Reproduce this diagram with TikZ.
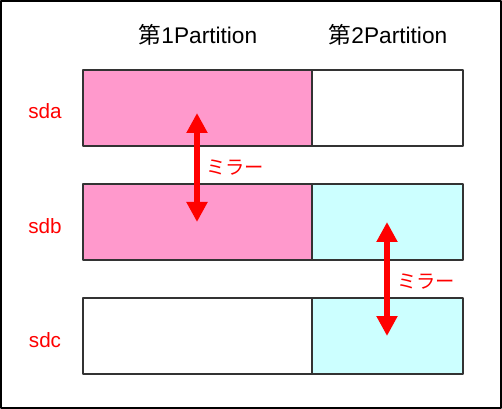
\documentclass[tikz,border=0pt]{standalone}
\usepackage{fontspec}
\setmainfont{Liberation Sans}
\newfontfamily\cjk{Noto Sans CJK JP}
\usetikzlibrary{arrows.meta}
\definecolor{pinkfill}{HTML}{FF99CC}
\definecolor{cyanfill}{HTML}{CCFFFF}
\begin{document}
\begin{tikzpicture}[x=0.75pt,y=-0.75pt,line join=round,
  part/.style={draw=black!80,line width=0.9pt},
  dev/.style={text=red,font=\fontsize{15.5}{17}\selectfont},
  mirror/.style={red,line width=4.5pt,{Triangle[width=15pt,length=15pt]}-{Triangle[width=15pt,length=15pt]}},
  lbl/.style={font=\fontsize{17}{19}\selectfont}]
\useasboundingbox (0,0) rectangle (502,409);
\draw[line width=1.5pt] (1,1) rectangle (501,408);
% partitions
\filldraw[part,fill=pinkfill] (83,70) rectangle (312,146);
\filldraw[part,fill=white] (312,70) rectangle (463,146);
\filldraw[part,fill=pinkfill] (83,184) rectangle (312,260);
\filldraw[part,fill=cyanfill] (312,184) rectangle (463,260);
\filldraw[part,fill=white] (83,298) rectangle (312,374);
\filldraw[part,fill=cyanfill] (312,298) rectangle (463,374);
% headings
\node[lbl] (p1) at (198,35) {{\cjk 第}1Partition};
\node[lbl] (p2) at (388,35) {{\cjk 第}2Partition};
\node[dev] (sda) at (45,111) {sda};
\node[dev] (sdb) at (45,226) {sdb};
\node[dev] (sdc) at (45,340) {sdc};
% mirrors
\coordinate (a1) at (197,113);
\coordinate (a2) at (197,222);
\coordinate (b1) at (387,222);
\coordinate (b2) at (387,336);
\draw[mirror] (a1)--(a2);
\draw[mirror] (b1)--(b2);
\node[dev,font=\cjk\fontsize{14.5}{16}\selectfont] (m1) at (235,168) {ミラー};
\node[dev,font=\cjk\fontsize{14.5}{16}\selectfont] (m2) at (426,282) {ミラー};
\end{tikzpicture}
\end{document}
